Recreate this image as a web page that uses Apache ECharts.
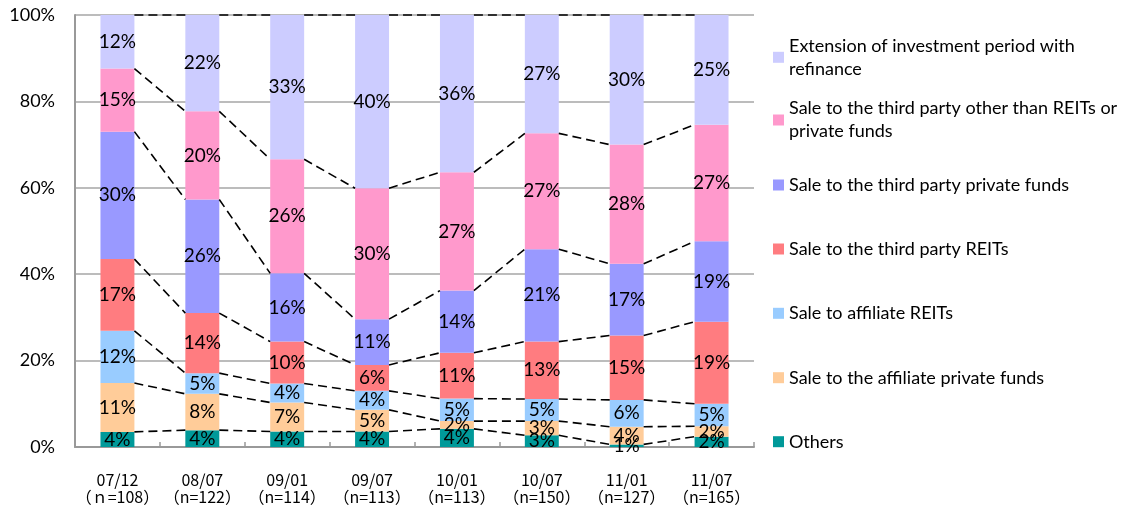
<!DOCTYPE html>
<html>
<head>
<meta charset="utf-8">
<script src="https://cdn.jsdelivr.net/npm/echarts@6/dist/echarts.min.js"></script>
<style>
html,body{margin:0;padding:0;background:#fff;}
#chart{width:1123px;height:508px;}
</style>
</head>
<body>
<div id="chart"></div>
<script>
// ---- data ----
const periods = ['07/12','08/07','09/01','09/07','10/01','10/07','11/01','11/07'];
const sampleSizes = ['（ｎ=108）','（n=122）','（n=114）','（n=113）','（n=113）','（n=150）','（n=127）','（n=165）'];
const yTicks = [0, 20, 40, 60, 80, 100];

const seriesNames = [
  'Others',
  'Sale to the affiliate private funds',
  'Sale to affiliate REITs',
  'Sale to the third party REITs',
  'Sale to the third party private funds',
  'Sale to the third party other than REITs or private funds',
  'Extension of investment period with refinance'
];
const others     = [3.5, 3.9, 3.6, 3.6, 4.2, 2.7, 0.6, 2.4];
const affilFunds = [11.3, 8.4, 6.7, 5.0, 1.8, 3.3, 4.1, 2.4];
const affilREITs = [12.1, 4.8, 4.4, 4.4, 5.2, 5.1, 6.2, 5.2];
const thirdREITs = [16.6, 13.9, 9.7, 6.0, 10.6, 13.3, 14.9, 19.0];
const thirdFunds = [29.5, 26.3, 15.8, 10.6, 14.4, 21.4, 16.6, 18.6];
const thirdOther = [14.6, 20.4, 26.4, 30.3, 27.4, 26.8, 27.6, 27.0];
const extension  = [12.4, 22.3, 33.4, 40.1, 36.4, 27.4, 30.0, 25.4];

const legendText = {
  'Extension of investment period with refinance': 'Extension of investment period with\nrefinance',
  'Sale to the third party other than REITs or private funds': 'Sale to the third party other than REITs or\nprivate funds'
};

// ---- build ----
const values = [others, affilFunds, affilREITs, thirdREITs, thirdFunds, thirdOther, extension];
const colors = ['#009999','#FFCC99','#99CCFF','#FF7C80','#9999FF','#FF99CC','#CCCCFF'];
const FONT = 'Lato, "Noto Sans CJK JP", sans-serif';
const CJK = '"Noto Sans CJK JP", sans-serif';
const BAR_RATIO = 0.40;

// cumulative tops for each series boundary
const cum = [];
values.forEach((arr, k) => {
  cum.push(arr.map((v, i) => (k === 0 ? 0 : cum[k - 1][i]) + v));
});
const connectorData = [];
cum.forEach(row => {
  for (let i = 0; i < row.length - 1; i++) {
    connectorData.push([i, row[i], row[i + 1]]);
  }
});

const barSeries = values.map((arr, k) => ({
  name: seriesNames[k],
  type: 'bar',
  stack: 'total',
  barWidth: (BAR_RATIO * 100) + '%',
  data: arr,
  itemStyle: { color: colors[k] },
  label: {
    show: true,
    position: 'inside',
    color: '#000',
    fontFamily: FONT,
    fontSize: 19,
    formatter: p => Math.round(p.value) + '%'
  },
  emphasis: { disabled: true }
}));

const connectorSeries = {
  type: 'custom',
  data: connectorData,
  encode: { x: 0, y: 1 },
  z: 5,
  clip: false,
  silent: true,
  renderItem: function (params, api) {
    const i = api.value(0);
    const p1 = api.coord([i, api.value(1)]);
    const p2 = api.coord([i + 1, api.value(2)]);
    const half = api.size([1, 0])[0] * BAR_RATIO / 2;
    return {
      type: 'line',
      shape: { x1: p1[0] + half, y1: p1[1], x2: p2[0] - half, y2: p2[1] },
      style: { stroke: '#000', lineWidth: 1.6, lineDash: [9, 5] }
    };
  }
};

// legend (one component per entry, top item = last series)
const legendTops = [22.8, 85.5, 173.5, 237.5, 301.8, 366.2, 430.2];
const legends = seriesNames.slice().reverse().map((name, j) => {
  const multi = !!legendText[name];
  return {
    data: [name],
    left: 773,
    top: legendTops[j],
    padding: 0,
    orient: 'vertical',
    icon: 'rect',
    itemWidth: 11,
    itemHeight: 11,
    selectedMode: false,
    formatter: n => legendText[n] || n,
    textStyle: {
      color: '#000',
      fontFamily: FONT,
      fontSize: 18,
      lineHeight: 23,
      padding: multi ? [23, 0, 0, 0] : 0
    }
  };
});

const option = {
  animation: false,
  backgroundColor: '#fff',
  grid: { left: 75, right: 369, top: 15, bottom: 61 },
  legend: legends,
  xAxis: {
    type: 'category',
    data: periods,
    axisLine: { lineStyle: { color: '#999', width: 2 } },
    axisTick: { show: true, inside: true, length: 5, alignWithLabel: false, lineStyle: { color: '#999', width: 1.5 } },
    axisLabel: {
      interval: 0,
      color: '#000',
      fontFamily: CJK,
      fontSize: 16,
      lineHeight: 17,
      margin: 24,
      formatter: (v, idx) => v + '\n' + sampleSizes[idx]
    }
  },
  yAxis: {
    type: 'value',
    min: yTicks[0],
    max: yTicks[yTicks.length - 1],
    interval: yTicks[1] - yTicks[0],
    axisLine: { show: true, lineStyle: { color: '#999', width: 2 } },
    axisTick: { show: false },
    splitLine: { lineStyle: { color: '#a6a6a6', width: 1.5 } },
    axisLabel: {
      color: '#000',
      fontFamily: FONT,
      fontSize: 18,
      margin: 20,
      formatter: '{value}%'
    }
  },
  series: barSeries.concat([connectorSeries])
};

const chart = echarts.init(document.getElementById('chart'), null, { renderer: 'canvas' });
chart.setOption(option);
</script>
</body>
</html>
